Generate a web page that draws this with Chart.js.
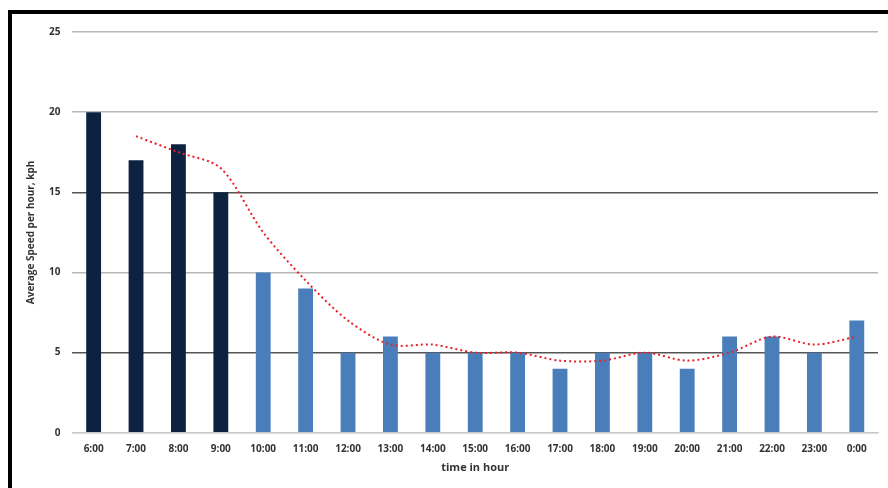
<!DOCTYPE html>
<html>
<head>
<meta charset="UTF-8">
<title>Average speed per hour</title>
<script src="https://cdn.jsdelivr.net/npm/chart.js@4.4.0/dist/chart.umd.min.js"></script>
<style>
	body { margin:0; background:#fff; }
	#frame { position:absolute; left:8px; top:10px; width:880px; height:478px;
		border-top:4px solid #000; border-left:4px solid #000; box-sizing:border-box; }
	#wrap { position:absolute; left:0; top:0; width:876px; height:474px; }
</style>
</head>
<body>
<div id="frame"><div id="wrap"><canvas id="myChart"></canvas></div></div>

<script>
	// hours on the x axis
	var hours = ["6:00","7:00","8:00","9:00","10:00","11:00","12:00","13:00","14:00","15:00",
		"16:00","17:00","18:00","19:00","20:00","21:00","22:00","23:00","0:00"];
	// average speed, kph
	var speeds = [20,17,18,15,10,9,5,6,5,5,5,4,5,5,4,6,6,5,7];
	// red dotted trend line (starts at 7:00)
	var trend = [null,18.5,17.5,16.5,12.5,9.5,7,5.5,5.5,5,5,4.5,4.5,5,4.5,5,6,5.5,6];
	var yTicks = [0,5,10,15,20,25];

	var barColors = speeds.map(function(v, i){ return i < 4 ? "#0d2240" : "#4a7ebb"; });

	new Chart("myChart", {
		type: "bar",
		data: {
			labels: hours,
			datasets: [{
				type: "line",
				data: trend,
				borderColor: "#e8202a",
				borderWidth: 2,
				borderDash: [2, 3],
				pointRadius: 0,
				tension: 0.3,
				fill: false
			}, {
				data: speeds,
				backgroundColor: barColors,
				barPercentage: 0.7,
				categoryPercentage: 0.5
			}]
		},
		options: {
			responsive: true,
			maintainAspectRatio: false,
			animation: false,
			layout: { padding: { top: 17, right: 10, left: 13, bottom: 10 } },
			plugins: { legend: { display: false }, tooltip: { enabled: false } },
			scales: {
				x: {
					grid: { display: false },
					border: { color: "#c8c8c8" },
					ticks: { color: "#333", font: { family: "Open Sans", size: 10, weight: "bold" }, maxRotation: 0, padding: 2 },
					title: { display: true, text: "time in hour", color: "#333",
						font: { family: "Open Sans", size: 11, weight: "bold" }, padding: { top: 4 } }
				},
				y: {
					min: 0, max: 25,
					afterBuildTicks: function(axis){ axis.ticks = yTicks.map(function(v){ return { value: v }; }); },
					grid: {
						color: function(c){ return (c.tick && (c.tick.value === 15 || c.tick.value === 5)) ? "#555" : "#b8b8b8"; },
						lineWidth: 1.5, drawTicks: false
					},
					border: { display: false },
					ticks: { color: "#333", font: { family: "Open Sans", size: 10, weight: "bold" }, padding: 12 },
					title: { display: true, text: "Average Speed per hour, kph", color: "#333",
						font: { family: "Open Sans", size: 10, weight: "bold" }, padding: { top: 0, bottom: 0 } }
				}
			}
		},
		plugins: [{
			id: "whiteBg",
			beforeDraw: function(chart){
				var ctx = chart.ctx;
				ctx.save();
				ctx.fillStyle = "#fff";
				ctx.fillRect(0, 0, chart.width, chart.height);
				ctx.restore();
			}
		}]
	});
</script>
</body>
</html>
